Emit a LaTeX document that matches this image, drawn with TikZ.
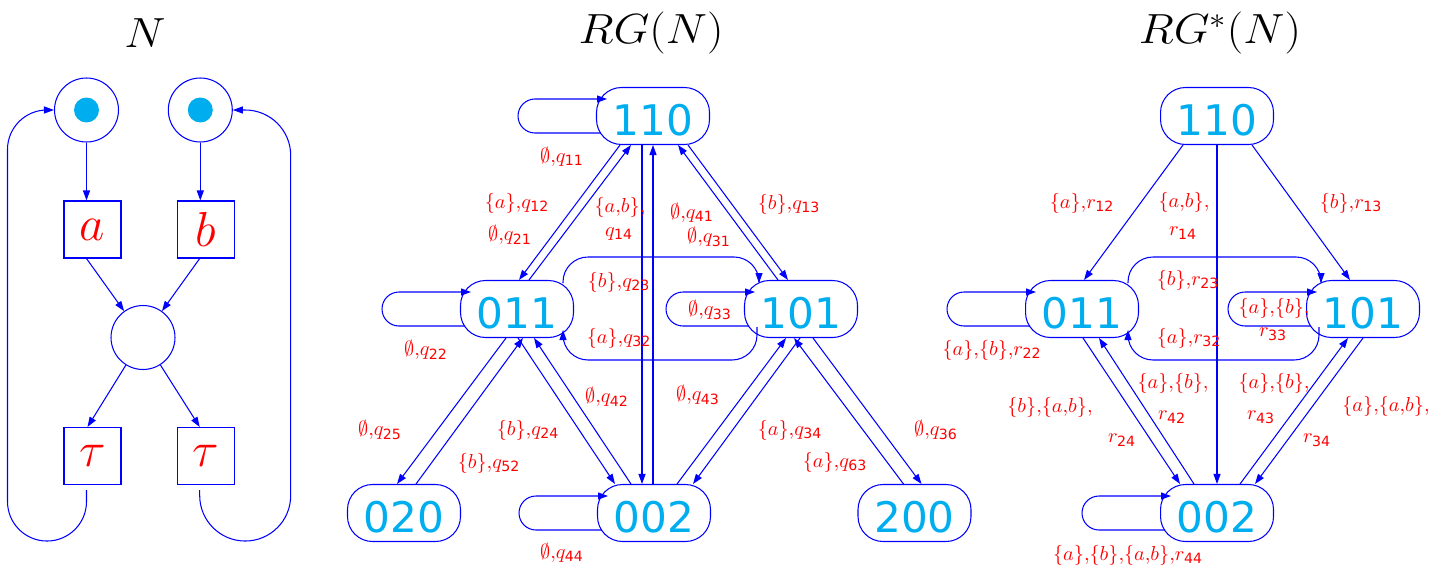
\documentclass[tikz,border=0pt]{standalone}
\usepackage{fix-cm}
\usepackage{fontspec}
\setsansfont{DejaVu Sans}
\setmathsf{DejaVu Sans}
\usetikzlibrary{arrows.meta}
\definecolor{tokcol}{RGB}{0,174,239}
\newcommand{\ix}[1]{_{\mathsf{#1}}}

\begin{document}
\begin{tikzpicture}[x=0.02cm,y=-0.02cm,line width=0.6pt,
  arr/.style={draw=blue,-{Triangle[length=2mm,width=1.4mm]}},
  sh/.style 2 args={shift={(#1,#2)}},
  place/.style={draw=blue,circle,minimum size=1.28cm,inner sep=0},
  trans/.style={draw=blue,minimum size=1.14cm,inner sep=0,text=red,font=\fontsize{28}{30}\selectfont},
  state/.style={draw=blue,rounded corners=0.5cm,minimum width=2.26cm,minimum height=1.14cm,inner sep=0,text height=22.5pt,text depth=0pt,text=tokcol,font=\fontsize{24}{25}\sffamily},
  lbl/.style={text=red,inner sep=0,font=\fontsize{11.5}{13}\selectfont},
  ttl/.style={font=\fontsize{24}{26}\selectfont}]
\useasboundingbox (0,0) rectangle (1449,568);

% titles
\node[ttl] (tN) at (145,33) {\scalebox{1.1}[1]{$N$}};
\node[ttl] (tRG) at (651,33) {\scalebox{1.1}[1]{$RG(N)$}};
\node[ttl] (tRGs) at (1220,33) {\scalebox{1.1}[1]{$RG^*(N)$}};

% the net N
\node[place] (pa) at (86.5,110) {};
\node[place] (pb) at (200.3,110) {};
\fill[tokcol] (pa) circle (0.25cm);
\fill[tokcol] (pb) circle (0.25cm);
\node[trans] (ta) at (92.5,229.5) {$a$};
\node[trans] (tb) at (205.7,229.5) {$b$};
\node[place] (pm) at (143,337.5) {};
\node[trans] (tc) at (92.5,456) {$\tau$};
\node[trans] (td) at (205.7,456) {$\tau$};
\draw[arr] (pa) -- (pa |- ta.north);
\draw[arr] (pb) -- (pb |- tb.north);
\draw[arr] ([sh={-6}{0}]ta.south) -- (pm);
\draw[arr] ([sh={-6}{0}]tb.south) -- (pm);
\draw[arr] (pm) -- ([sh={-5}{0}]tc.north);
\draw[arr] (pm) -- ([sh={-6}{0}]td.north);
\draw[arr,rounded corners=0.79cm] ([sh={-6}{5}]tc.south) |- ++(-79,51) |- (pa);
\draw[arr,rounded corners=0.91cm] ([sh={-6}{5}]td.south) |- ++(91,51) |- (pb);

% RG(N)
\node[state] (m110) at (653,116) {110};
\node[state] (m011) at (517,309) {011};
\node[state] (m101) at (801,309) {101};
\node[state] (m020) at (404,513) {020};
\node[state] (m002) at (654,513) {002};
\node[state] (m200) at (914.5,513) {200};
\draw[arr] ([sh={-33}{0}]m110.south) -- ([sh={2}{0}]m011.north);
\draw[arr] ([sh={12}{0}]m011.north) -- ([sh={-22}{0}]m110.south);
\draw[arr] ([sh={-11}{0}]m110.south) -- ([sh={-12}{0}]m002.north);
\draw[arr] ([sh={-1}{0}]m002.north) -- (m110.south);
\draw[arr] ([sh={-23}{0}]m101.north) -- ([sh={25}{0}]m110.south);
\draw[arr] ([sh={35}{0}]m110.south) -- ([sh={-13}{0}]m101.north);
\draw[arr] ([sh={-11}{0}]m011.south) -- ([sh={-7}{0}]m020.north);
\draw[arr] ([sh={12}{0}]m020.north) -- ([sh={6}{0}]m011.south);
\draw[arr] ([sh={1}{0}]m011.south) -- ([sh={-39}{0}]m002.north);
\draw[arr] ([sh={-23}{0}]m002.north) -- ([sh={17}{0}]m011.south);
\draw[arr] ([sh={-1}{0}]m101.south) -- ([sh={39}{0}]m002.north);
\draw[arr] ([sh={23}{0}]m002.north) -- ([sh={-15}{0}]m101.south);
\draw[arr] ([sh={12}{0}]m101.south) -- ([sh={7}{0}]m200.north);
\draw[arr] ([sh={-11}{0}]m200.north) -- ([sh={-7}{0}]m101.south);
\draw[arr,rounded corners=0.5cm] ([sh={46}{-26}]m011.center) -- ++(0,-26) -| ([sh={-42}{-26}]m101.center);
\draw[arr,rounded corners=0.5cm] ([sh={-44}{18}]m101.center) -- ++(0,33) -| ([sh={46}{21}]m011.center);
\draw[arr,rounded corners=0.34cm] ([sh={-52}{17}]m110.center) -- ++(-83,0) |- ([sh={-46}{-17}]m110.center);
\draw[arr,rounded corners=0.34cm] ([sh={-52}{17}]m011.center) -- ++(-83,0) |- ([sh={-46}{-17}]m011.center);
\draw[arr,rounded corners=0.34cm] ([sh={-52}{17}]m101.center) -- ++(-83,0) |- ([sh={-46}{-17}]m101.center);
\draw[arr,rounded corners=0.34cm] ([sh={-52}{17}]m002.center) -- ++(-83,0) |- ([sh={-46}{-17}]m002.center);
\node[lbl] (q11) at (562,157) {$\emptyset{,}q\ix{11}$};
\node[lbl] (q12) at (517,203) {$\{a\}{,}q\ix{12}$};
\node[lbl] (q21) at (510,235) {$\emptyset{,}q\ix{21}$};
\node[lbl] (q14a) at (620,207) {$\{a{,}b\}{,}$};
\node[lbl] (q14b) at (619,234) {$q\ix{14}$};
\node[lbl] (q41) at (692,213) {$\emptyset{,}q\ix{41}$};
\node[lbl] (q31) at (709,237) {$\emptyset{,}q\ix{31}$};
\node[lbl] (q13) at (789,204) {$\{b\}{,}q\ix{13}$};
\node[lbl] (q23) at (619,282) {$\{b\}{,}q\ix{23}$};
\node[lbl] (q33) at (710,310) {$\emptyset{,}q\ix{33}$};
\node[lbl] (q22) at (426,350) {$\emptyset{,}q\ix{22}$};
\node[lbl] (q32) at (619,338) {$\{a\}{,}q\ix{32}$};
\node[lbl] (q42) at (607,397) {$\emptyset{,}q\ix{42}$};
\node[lbl] (q43) at (698,395) {$\emptyset{,}q\ix{43}$};
\node[lbl] (q25) at (380,430) {$\emptyset{,}q\ix{25}$};
\node[lbl] (q24) at (528,430) {$\{b\}{,}q\ix{24}$};
\node[lbl] (q52) at (489,463) {$\{b\}{,}q\ix{52}$};
\node[lbl] (q34) at (790,430) {$\{a\}{,}q\ix{34}$};
\node[lbl] (q63) at (835,462) {$\{a\}{,}q\ix{63}$};
\node[lbl] (q36) at (936,430) {$\emptyset{,}q\ix{36}$};
\node[lbl] (q44) at (562,553) {$\emptyset{,}q\ix{44}$};

% RG*(N)
\node[state] (r110) at (1217,116) {110};
\node[state] (r011) at (1082,309) {011};
\node[state] (r101) at (1363,309) {101};
\node[state] (r002) at (1217,513) {002};
\draw[arr] ([sh={-34}{0}]r110.south) -- ([sh={2}{0}]r011.north);
\draw[arr] ([sh={35}{0}]r110.south) -- ([sh={-13}{0}]r101.north);
\draw[arr] (r110) -- (r002);
\draw[arr] ([sh={1}{0}]r011.south) -- ([sh={-37}{0}]r002.north);
\draw[arr] ([sh={-23}{0}]r002.north) -- ([sh={17}{0}]r011.south);
\draw[arr] (r101.south) -- ([sh={38}{0}]r002.north);
\draw[arr] ([sh={23}{0}]r002.north) -- ([sh={-15}{0}]r101.south);
\draw[arr,rounded corners=0.5cm] ([sh={46}{-26}]r011.center) -- ++(0,-26) -| ([sh={-42}{-26}]r101.center);
\draw[arr,rounded corners=0.5cm] ([sh={-44}{18}]r101.center) -- ++(0,33) -| ([sh={46}{21}]r011.center);
\draw[arr,rounded corners=0.34cm] ([sh={-52}{17}]r011.center) -- ++(-83,0) |- ([sh={-46}{-17}]r011.center);
\draw[arr,rounded corners=0.34cm] ([sh={-52}{17}]r101.center) -- ++(-83,0) |- ([sh={-46}{-17}]r101.center);
\draw[arr,rounded corners=0.34cm] ([sh={-52}{17}]r002.center) -- ++(-83,0) |- ([sh={-46}{-17}]r002.center);
\node[lbl] (s12) at (1082,203) {$\{a\}{,}r\ix{12}$};
\node[lbl] (s14a) at (1184,202) {$\{a{,}b\}{,}$};
\node[lbl] (s14b) at (1183,233) {$r\ix{14}$};
\node[lbl] (s13) at (1351,203) {$\{b\}{,}r\ix{13}$};
\node[lbl] (s23) at (1188,280) {$\{b\}{,}r\ix{23}$};
\node[lbl] (s33a) at (1274,308) {$\{a\}{,}\{b\}{,}$};
\node[lbl] (s33b) at (1273,334) {$r\ix{33}$};
\node[lbl] (s32) at (1189,338) {$\{a\}{,}r\ix{32}$};
\node[lbl] (s22) at (992,350) {$\{a\}{,}\{b\}{,}r\ix{22}$};
\node[lbl] (s24a) at (1050,407) {$\{b\}{,}\{a{,}b\}{,}$};
\node[lbl] (s24b) at (1122,440) {$r\ix{24}$};
\node[lbl] (s42a) at (1173,383) {$\{a\}{,}\{b\}{,}$};
\node[lbl] (s42b) at (1172,417) {$r\ix{42}$};
\node[lbl] (s43a) at (1274,383) {$\{a\}{,}\{b\}{,}$};
\node[lbl] (s43b) at (1261,417) {$r\ix{43}$};
\node[lbl] (s34a) at (1386,406) {$\{a\}{,}\{a{,}b\}{,}$};
\node[lbl] (s34b) at (1317,440) {$r\ix{34}$};
\node[lbl] (s44) at (1128,555) {$\{a\}{,}\{b\}{,}\{a{,}b\}{,}r\ix{44}$};
\end{tikzpicture}
\end{document}
